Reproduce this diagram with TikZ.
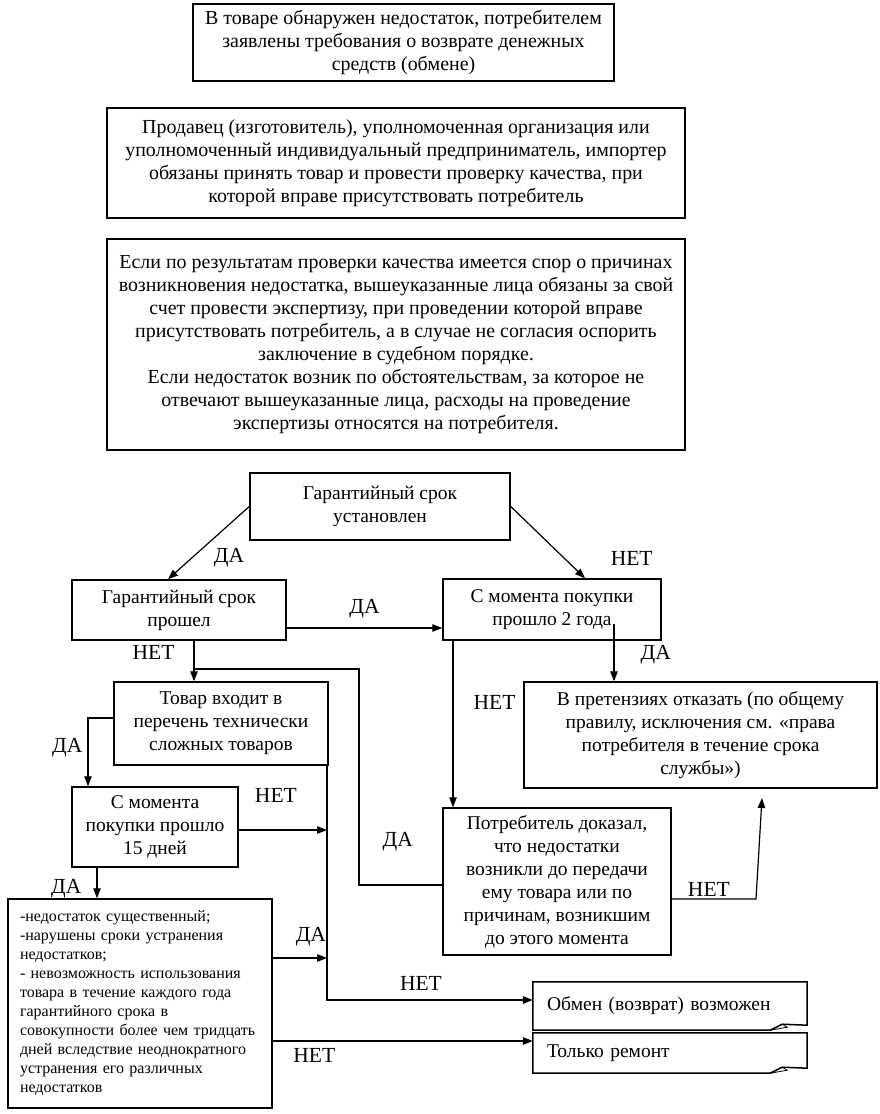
\documentclass[tikz,border=0pt]{standalone}
\usepackage{fontspec}
\setmainfont{Liberation Serif}
\usetikzlibrary{arrows.meta,positioning}

\tikzset{
  box/.style={draw, line width=1.5pt, align=center, inner sep=2pt, font=\fontsize{19.5}{23}\selectfont},
  topbox/.style={box, font=\fontsize{19.9}{23}\selectfont},
  listbox/.style={draw, line width=1.5pt, align=left, text width=240pt, inner xsep=12pt, font=\fontsize{16}{19}\selectfont},
  docbox/.style={align=left, text width=246pt, inner xsep=14pt, font=\fontsize{19.5}{23}\selectfont},
  arr/.style={line width=1.2pt, -{Triangle[length=10pt,width=7.5pt]}},
  link/.style={line width=1.2pt},
  lbl/.style={font=\fontsize{21.5}{22}\selectfont, inner sep=1pt},
}

\begin{document}
\begin{tikzpicture}[x=1pt,y=-1pt]
    \useasboundingbox (0,0) rectangle (880,1114);
    % upper part
    \node[topbox, minimum width=421pt, minimum height=77pt] (defect) at (403.5,42.5) {В товаре обнаружен недостаток, потребителем\\заявлены требования о возврате денежных\\средств (обмене)};
    \node[topbox, minimum width=578pt, minimum height=110pt] (seller) at (396,163) {Продавец (изготовитель), уполномоченная организация или\\уполномоченный индивидуальный предприниматель, импортер\\обязаны принять товар и провести проверку качества, при\\которой вправе присутствовать потребитель};
    \node[topbox, minimum width=578pt, minimum height=211pt] (dispute) at (396,344.5) {Если по результатам проверки качества имеется спор о причинах\\возникновения недостатка, вышеуказанные лица обязаны за свой\\счет провести экспертизу, при проведении которой вправе\\присутствовать потребитель, а в случае не согласия оспорить\\заключение в судебном порядке.\\Если недостаток возник по обстоятельствам, за которое не\\отвечают вышеуказанные лица, расходы на проведение\\экспертизы относятся на потребителя.};

    % lower part
    \node[box, minimum width=260pt, minimum height=67pt] (gs) at (380,506.5) {Гарантийный срок\\установлен};
    \node[box, minimum width=214pt, minimum height=60pt] (gp) at (179,610) {Гарантийный срок\\прошел};
    \node[box, minimum width=218pt, minimum height=61pt] (c2) at (552,609.5) {С момента покупки\\прошло 2 года};
    \node[box, minimum width=214pt, minimum height=83pt] (tv) at (221,723.5) {Товар входит в\\перечень технически\\сложных товаров};
    \node[box, minimum width=353pt, minimum height=106pt] (vp) at (700.5,735) {В претензиях отказать (по общему\\правилу, исключения см. «права\\потребителя в течение срока\\службы»)};
    \node[box, minimum width=166pt, minimum height=80pt] (c15) at (155,827) {С момента\\покупки прошло\\15 дней};
    \node[box, minimum width=228pt, minimum height=147pt] (pd) at (557,881.5) {Потребитель доказал,\\что недостатки\\возникли до передачи\\ему товара или по\\причинам, возникшим\\до этого момента};
    \node[listbox, minimum height=209pt] (list) at (140,1003.5) {-недостаток существенный;\\-нарушены сроки устранения\\недостатков;\\- невозможность использования\\товара в течение каждого года\\гарантийного срока в\\совокупности более чем тридцать\\дней вследствие неоднократного\\устранения его различных\\недостатков};
    \node[docbox, minimum height=48pt] (obmen) at (670,1006) {Обмен (возврат) возможен};
    \node[docbox, minimum height=40pt] (remont) at (670,1053) {Только ремонт};

    % folded corners
    \draw[line width=1.5pt] (obmen.south west) -- (obmen.north west) -- (obmen.north east) -- ([yshift=5pt]obmen.south east) -- ([xshift=-25pt,yshift=6pt]obmen.south east) -- ([xshift=-37pt]obmen.south east) -- cycle;
    \draw[line width=0.8pt] ([xshift=-37pt]obmen.south east) -- ([xshift=-20pt,yshift=3pt]obmen.south east) -- ([xshift=-25pt,yshift=6pt]obmen.south east);
    \draw[line width=1.5pt] (remont.south west) -- (remont.north west) -- (remont.north east) -- ([yshift=5pt]remont.south east) -- ([xshift=-25pt,yshift=6pt]remont.south east) -- ([xshift=-37pt]remont.south east) -- cycle;
    \draw[line width=0.8pt] ([xshift=-37pt]remont.south east) -- ([xshift=-20pt,yshift=3pt]remont.south east) -- ([xshift=-25pt,yshift=6pt]remont.south east);

    % junctions
    \coordinate (gpda) at ([yshift=-18pt]gp.east);
    \coordinate (gpnet) at ([xshift=15pt]gp.south);
    \coordinate (nbr) at (194,669);
    \coordinate (dabend) at (359,669);
    \coordinate (c2net) at ([xshift=-99pt]c2.south);
    \coordinate (c2da) at ([xshift=62pt,yshift=17pt]c2.south);
    \coordinate (tvda) at ([yshift=5.5pt]tv.west);
    \coordinate (c15da) at ([xshift=-58pt]c15.south);
    \coordinate (nv15) at (327,830);
    \coordinate (nvlist) at (327,958);
    \coordinate (nvbot) at (327,1000);
    \coordinate (rmin) at ([yshift=12pt]remont.west);
    \coordinate (pdnb) at (756,899);
    \coordinate (vpin) at (762,798);

    \draw[arr] (gs.west) -- node[lbl, pos=0.7, anchor=west, xshift=20pt]{ДА} ([xshift=-11pt]gp.north);
    \draw[arr] (gs.east) -- node[lbl, pos=0.72, anchor=west, xshift=45pt]{НЕТ} ([xshift=33pt]c2.north);
    \draw[arr] (gpda) -- node[lbl, midway, anchor=south, yshift=8pt]{ДА} (gpda -| c2.west);
    \draw[arr] (gpnet) -- node[lbl, pos=0.3, anchor=east, xshift=-18pt]{НЕТ} (gpnet |- tv.north);
    \draw[link] (nbr) -- (dabend) |- node[lbl, pos=0.4, anchor=west, xshift=22pt]{ДА} ([yshift=-3.5pt]pd.west);
    \draw[arr] (tvda) -| node[lbl, pos=0.72, anchor=east, xshift=-4pt]{ДА} ([xshift=-67pt]c15.north);
    \draw[arr] (c15da) -- node[lbl, pos=0.7, anchor=east, xshift=-14pt]{ДА} (c15da |- list.north);
    \draw[arr] (tv.south -| nvbot) -- (nvbot) -- node[lbl, midway, anchor=south, xshift=-9pt, yshift=8pt]{НЕТ} (obmen.west |- nvbot);
    \draw[arr] (c15.east |- nv15) -- node[lbl, midway, anchor=south, xshift=-7pt, yshift=26pt]{НЕТ} (nv15);
    \draw[arr] (list.east |- nvlist) -- node[lbl, midway, anchor=south, xshift=11pt, yshift=10pt]{ДА} (nvlist);
    \draw[arr] (list.east |- rmin) -- node[lbl, pos=0.16, anchor=north, yshift=-6pt]{НЕТ} (rmin);
    \draw[arr] (c2net) -- node[lbl, pos=0.37, anchor=west, xshift=19pt]{НЕТ} (c2net |- pd.north);
    \draw[arr] (c2da) -- node[lbl, pos=0.54, anchor=west, xshift=25pt]{ДА} (c2da |- vp.north);
    \draw[arr] (pd.east |- pdnb) -- node[lbl, midway, anchor=south, xshift=-5pt, yshift=1pt]{НЕТ} (pdnb) -- (vpin);
\end{tikzpicture}
\end{document}
